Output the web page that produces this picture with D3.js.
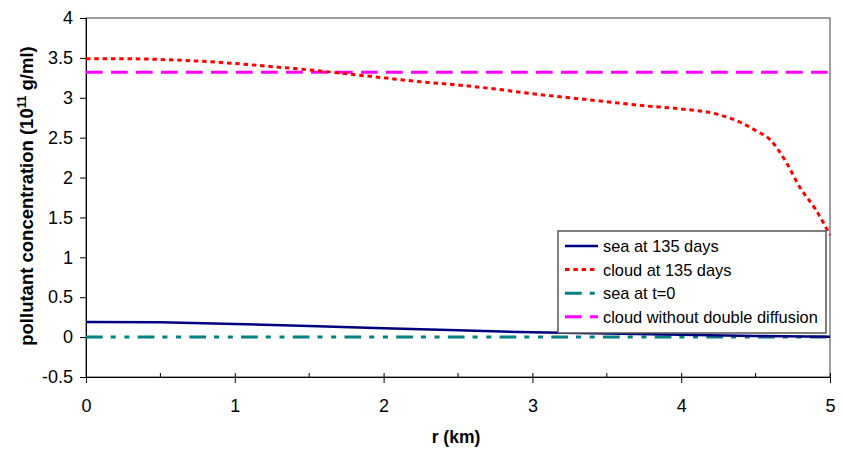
<!DOCTYPE html>
<html><head><meta charset="utf-8">
<script src="https://cdn.jsdelivr.net/npm/d3@7"></script>
<style>body{margin:0;background:#fff}svg{display:block;font-family:"Liberation Sans",Arial,sans-serif}</style>
</head><body><svg id="c" width="843" height="453"></svg>
<script>
const xTicks = [0,1,2,3,4,5];
const yTicks = [-0.5,0,0.5,1,1.5,2,2.5,3,3.5,4];
const cloudR = [0,0.25,0.5,0.75,1,1.25,1.5,1.75,2,2.25,2.5,2.75,3,3.25,3.5,3.75,4,4.25,4.4,4.5,4.6,4.7,4.8,4.9,5];
const cloudV = [3.49,3.49,3.48,3.46,3.43,3.39,3.35,3.30,3.25,3.20,3.16,3.11,3.05,3.00,2.95,2.90,2.86,2.79,2.69,2.59,2.47,2.21,1.87,1.61,1.28];
const seaR = [0,0.5,1,1.5,2,2.5,3,3.5,4,4.5,5];
const seaV = [0.19,0.185,0.165,0.14,0.11,0.085,0.06,0.045,0.03,0.015,0.005];
const sea0R = [0,5];
const sea0V = [0,0];
const noDiffR = [0,5];
const noDiffV = [3.32,3.32];
const seriesNames = ["sea at 135 days","cloud at 135 days","sea at t=0","cloud without double diffusion"];

const svg = d3.select("#c");
const L=86,R=830,T=18,B=377;
const FONT="Liberation Sans, Arial, sans-serif";
const x = d3.scaleLinear().domain([0,5]).range([L,R]);
const y = d3.scaleLinear().domain([-0.5,4]).range([B,T]);
const fmt = d => String(d);

// frame
svg.append("rect").attr("x",L).attr("y",T).attr("width",R-L).attr("height",B-T)
  .attr("fill","none").attr("stroke","#404040").attr("stroke-width",1);

// y axis
const ya = svg.append("g").attr("transform",`translate(${L},0)`)
  .call(d3.axisLeft(y).tickValues(yTicks).tickSize(6).tickPadding(7).tickFormat(fmt));
ya.select(".domain").attr("stroke","#000");
ya.selectAll("text").attr("font-size",18).attr("fill","#000").attr("font-family",FONT);

// x axis major (cross) and minor (inside)
const xa = svg.append("g").attr("transform",`translate(0,${B})`)
  .call(d3.axisBottom(x).tickValues(xTicks).tickSizeInner(6).tickSizeOuter(0).tickPadding(16).tickFormat(fmt));
xa.select(".domain").attr("stroke","#000");
xa.selectAll(".tick line").attr("y1",-4);
xa.selectAll("text").attr("font-size",18).attr("fill","#000").attr("font-family",FONT);
svg.append("g").selectAll("line").data([0.5,1.5,2.5,3.5,4.5]).join("line")
  .attr("x1",d=>x(d)).attr("x2",d=>x(d)).attr("y1",B-4).attr("y2",B).attr("stroke","#000");

const line = d3.line().x(d=>x(d[0])).y(d=>y(d[1]));
const zip=(a,b)=>a.map((v,i)=>[v,b[i]]);

const styles = [
  {color:"#000080",dash:null,w:2.5},
  {color:"#ff0000",dash:"4.5,3.8",w:3},
  {color:"#008080",dash:"16.7,8,5,8.7,5,8.3",w:3},
  {color:"#ff00ff",dash:"16.7,8.3",w:3}
];
const data = [zip(seaR,seaV),zip(cloudR,cloudV),zip(sea0R,sea0V),zip(noDiffR,noDiffV)];
const order=[2,0,3,1];
order.forEach(i=>{
  svg.append("path").datum(data[i]).attr("d",line.curve(i===1?d3.curveMonotoneX:d3.curveLinear))
    .attr("fill","none").attr("stroke",styles[i].color).attr("stroke-width",styles[i].w)
    .attr("stroke-dasharray",styles[i].dash);
});

// legend
const lg = svg.append("g");
lg.append("rect").attr("x",558).attr("y",231).attr("width",268).attr("height",102)
  .attr("fill","#fff").attr("stroke","#555").attr("stroke-width",1.5);
seriesNames.forEach((n,i)=>{
  const yy = 246 + i*23.6;
  lg.append("line").attr("x1",565).attr("x2",598).attr("y1",yy).attr("y2",yy)
    .attr("stroke",styles[i].color).attr("stroke-width",styles[i].w)
    .attr("stroke-dasharray", i===2 ? "16.7,8,5,8.7" : styles[i].dash);
  lg.append("text").attr("x",603).attr("y",yy+6).attr("font-size",16.4).attr("font-family",FONT).text(n);
});

// axis titles
svg.append("text").attr("x",456).attr("y",443).attr("text-anchor","middle").attr("font-family",FONT)
  .attr("font-size",17.5).attr("font-weight","bold").text("r (km)");
const yt = svg.append("text").attr("transform",`translate(33,196) rotate(-90)`).attr("font-family",FONT)
  .attr("text-anchor","middle").attr("font-size",18.5).attr("font-weight","bold");
yt.append("tspan").text("pollutant concentration (10");
yt.append("tspan").attr("font-size",12).attr("dy",-7).text("11");
yt.append("tspan").attr("dy",7).text(" g/ml)");
</script></body></html>
